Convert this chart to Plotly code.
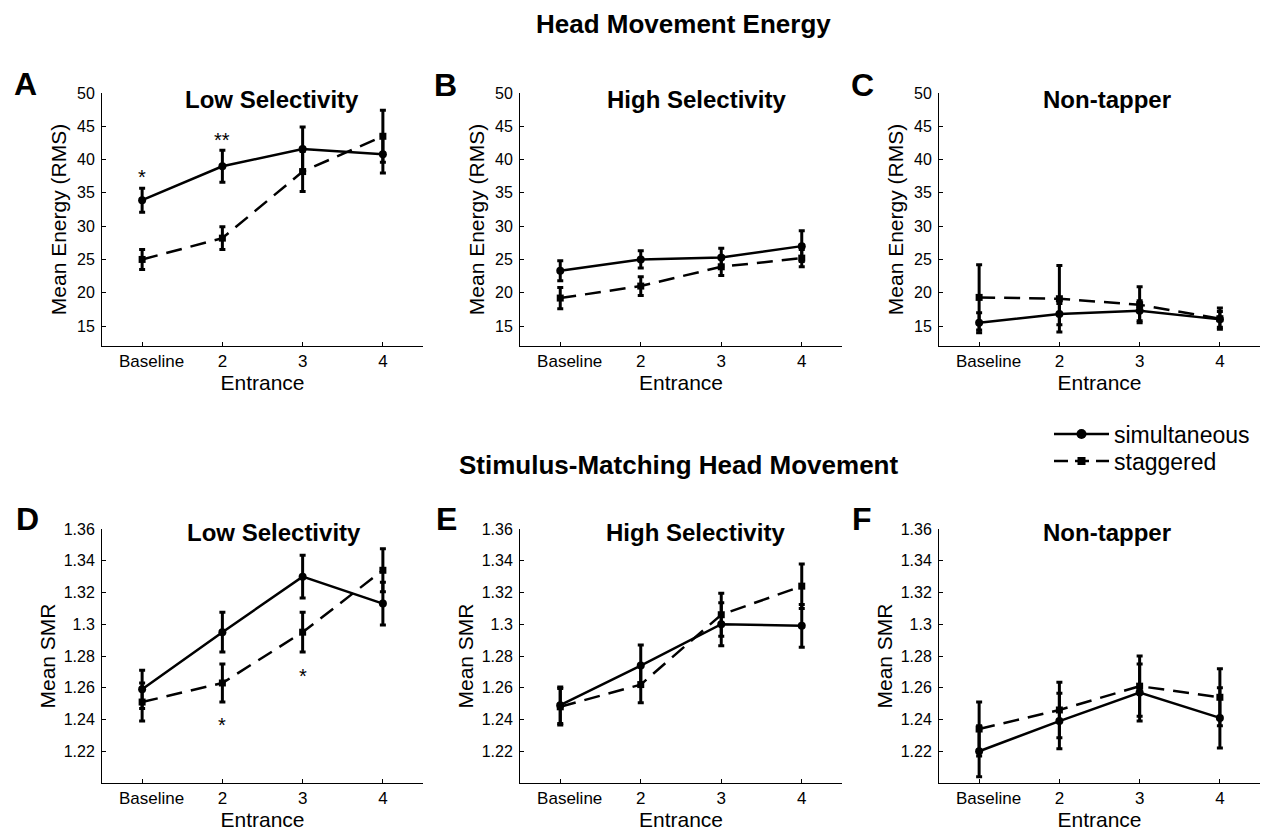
import plotly.graph_objects as go
from plotly.subplots import make_subplots

# ---------------- data ----------------
categories = ["\u00a0\u00a0\u00a0\u00a0Baseline", "2", "3", "4"]
x_pos = [1, 2, 3, 4]

# Head movement energy (RMS)
A_sim = [33.9, 39.0, 41.6, 40.8]
A_sim_err = [1.8, 2.4, 3.3, 2.8]
A_stag = [25.0, 28.2, 38.2, 43.5]
A_stag_err = [1.5, 1.7, 3.0, 3.9]

B_sim = [23.3, 25.0, 25.3, 27.0]
B_sim_err = [1.5, 1.3, 1.4, 2.3]
B_stag = [19.2, 21.0, 23.9, 25.2]
B_stag_err = [1.6, 1.4, 1.3, 1.3]

C_sim = [15.5, 16.8, 17.3, 16.0]
C_sim_err = [1.5, 1.6, 1.5, 1.2]
C_stag = [19.3, 19.1, 18.2, 16.1]
C_stag_err = [4.9, 5.0, 2.7, 1.6]

# Stimulus-matching head movement (SMR)
D_sim = [1.259, 1.295, 1.330, 1.313]
D_sim_err = [0.012, 0.0125, 0.0135, 0.0135]
D_stag = [1.251, 1.263, 1.295, 1.334]
D_stag_err = [0.012, 0.012, 0.0125, 0.0135]

E_sim = [1.249, 1.274, 1.300, 1.299]
E_sim_err = [0.0115, 0.013, 0.0135, 0.0135]
E_stag = [1.248, 1.262, 1.306, 1.324]
E_stag_err = [0.0115, 0.0115, 0.0135, 0.014]

F_sim = [1.220, 1.239, 1.257, 1.241]
F_sim_err = [0.016, 0.0175, 0.018, 0.019]
F_stag = [1.234, 1.246, 1.261, 1.254]
F_stag_err = [0.017, 0.0175, 0.019, 0.018]

energy_ticks = [15, 20, 25, 30, 35, 40, 45, 50]
smr_ticks = [1.22, 1.24, 1.26, 1.28, 1.30, 1.32, 1.34, 1.36]
smr_ticktext = ["1.22", "1.24", "1.26", "1.28", "1.3", "1.32", "1.34", "1.36"]

panel_titles = ["Low Selectivity", "High Selectivity", "Non-tapper"]
panel_letters = ["A", "B", "C", "D", "E", "F"]

# significance stars: (panel index, x, y, text)
stars = [(0, 1, 38.0, "*"), (0, 2, 43.6, "**"), (3, 2, 1.239, "*"), (3, 3, 1.270, "*")]

panels = [
    (A_sim, A_sim_err, A_stag, A_stag_err),
    (B_sim, B_sim_err, B_stag, B_stag_err),
    (C_sim, C_sim_err, C_stag, C_stag_err),
    (D_sim, D_sim_err, D_stag, D_stag_err),
    (E_sim, E_sim_err, E_stag, E_stag_err),
    (F_sim, F_sim_err, F_stag, F_stag_err),
]

# ---------------- figure ----------------
W, H = 1262, 833
FONT = "Liberation Sans, Arial, Helvetica, sans-serif"

fig = make_subplots(rows=2, cols=3)

# pixel layout of plot areas
x_px = [(102, 423), (520, 842), (939, 1260)]
y_px = [(93, 346), (529, 783)]

for i, (s, se, g, ge) in enumerate(panels):
    r = i // 3 + 1
    c = i % 3 + 1
    fig.add_trace(go.Scatter(
        x=x_pos, y=g, name="staggered", showlegend=False,
        mode="lines+markers",
        line=dict(color="black", width=2.5, dash="16px,9px"),
        marker=dict(symbol="square", size=7, color="black"),
        error_y=dict(type="data", array=ge, color="black", thickness=3, width=3),
    ), row=r, col=c)
    fig.add_trace(go.Scatter(
        x=x_pos, y=s, name="simultaneous", showlegend=False,
        mode="lines+markers",
        line=dict(color="black", width=2.5),
        marker=dict(symbol="circle", size=8, color="black"),
        error_y=dict(type="data", array=se, color="black", thickness=3, width=3),
    ), row=r, col=c)

# legend-only traces (one legend box each, for exact placement)
fig.add_trace(go.Scatter(x=[None], y=[None], name="simultaneous", mode="lines+markers",
                         line=dict(color="black", width=2.5),
                         marker=dict(symbol="circle", size=10, color="black"),
                         showlegend=True, legend="legend"))
fig.add_trace(go.Scatter(x=[None], y=[None], name="staggered", mode="lines+markers",
                         line=dict(color="black", width=2.5, dash="14px,7px"),
                         marker=dict(symbol="square", size=8, color="black"),
                         showlegend=True, legend="legend2"))

for i in range(6):
    r = i // 3
    c = i % 3
    xa = "xaxis" if i == 0 else f"xaxis{i+1}"
    ya = "yaxis" if i == 0 else f"yaxis{i+1}"
    x0, x1 = x_px[c]
    y0, y1 = y_px[r]
    fig.layout[xa].update(
        domain=[x0 / W, x1 / W], range=[0.5, 4.5], automargin=False,
        tickvals=x_pos, ticktext=categories,
        ticks="inside", ticklen=4, tickcolor="black",
        showline=True, linecolor="black", linewidth=1,
        showgrid=False, zeroline=False,
        tickfont=dict(family=FONT, size=17, color="black"),
        title=dict(text="Entrance", font=dict(family=FONT, size=21, color="black"), standoff=2),
    )
    if r == 0:
        yrange = [12, 50]
        tv, tt = energy_ticks, [str(t) for t in energy_ticks]
        ytitle = "Mean Energy (RMS)"
        stand = 4
    else:
        yrange = [1.2, 1.36]
        tv, tt = smr_ticks, smr_ticktext
        ytitle = "Mean SMR"
        stand = 2
    fig.layout[ya].update(
        domain=[1 - y1 / H, 1 - y0 / H], range=yrange, automargin=False,
        tickvals=tv, ticktext=tt,
        ticks="inside", ticklen=4, tickcolor="black",
        showline=True, linecolor="black", linewidth=1,
        showgrid=False, zeroline=False, ticklabelstandoff=3,
        tickfont=dict(family=FONT, size=16, color="black"),
        title=dict(text=ytitle, font=dict(family=FONT, size=21, color="black"), standoff=stand),
    )

annotations = []
# panel titles
title_cx = [[272, 696, 1107], [274, 695, 1107]]
title_cy = [99, 532]
for r in range(2):
    for c in range(3):
        annotations.append(dict(
            text=f"<b>{panel_titles[c]}</b>", x=title_cx[r][c] / W, y=1 - title_cy[r] / H,
            xref="paper", yref="paper", xanchor="center", yanchor="middle", showarrow=False,
            font=dict(family=FONT, size=24, color="black")))
# panel letters
letter_pos = [(25, 84), (445, 85), (862, 85), (27, 519), (446, 519), (862, 519)]
for L, (px, py) in zip(panel_letters, letter_pos):
    annotations.append(dict(
        text=f"<b>{L}</b>", x=px / W, y=1 - py / H, xref="paper", yref="paper",
        xanchor="center", yanchor="middle", showarrow=False,
        font=dict(family=FONT, size=32, color="black")))
# section titles
annotations.append(dict(text="<b>Head Movement Energy</b>", x=683 / W, y=1 - 24 / H,
                        xref="paper", yref="paper", xanchor="center", yanchor="middle",
                        showarrow=False, font=dict(family=FONT, size=26, color="black")))
annotations.append(dict(text="<b>Stimulus-Matching Head Movement</b>", x=678 / W, y=1 - 465 / H,
                        xref="paper", yref="paper", xanchor="center", yanchor="middle",
                        showarrow=False, font=dict(family=FONT, size=26, color="black")))
# stars
for (pi, sx, sy, st) in stars:
    xr = "x" if pi == 0 else f"x{pi+1}"
    yr = "y" if pi == 0 else f"y{pi+1}"
    annotations.append(dict(text=st, x=sx, y=sy, xref=xr, yref=yr, xanchor="center",
                            yanchor="middle", showarrow=False, yshift=-4,
                            font=dict(family=FONT, size=20, color="black")))

leg_common = dict(xanchor="left", yanchor="middle", font=dict(family=FONT, size=23, color="black"),
                  bgcolor="rgba(0,0,0,0)", itemwidth=55, borderwidth=0)
fig.update_layout(
    template="none",
    width=W, height=H, margin=dict(l=0, r=0, t=0, b=0, autoexpand=False),
    paper_bgcolor="white", plot_bgcolor="white",
    font=dict(family=FONT, color="black"),
    annotations=annotations,
    showlegend=True,
    legend=dict(x=1049 / W, y=1 - 434 / H, **leg_common),
    legend2=dict(x=1049 / W, y=1 - 461 / H, **leg_common),
)

fig.write_html("out.html", config={"displayModeBar": False},
               post_script="document.body.style.margin='0';document.body.style.padding='0';")
